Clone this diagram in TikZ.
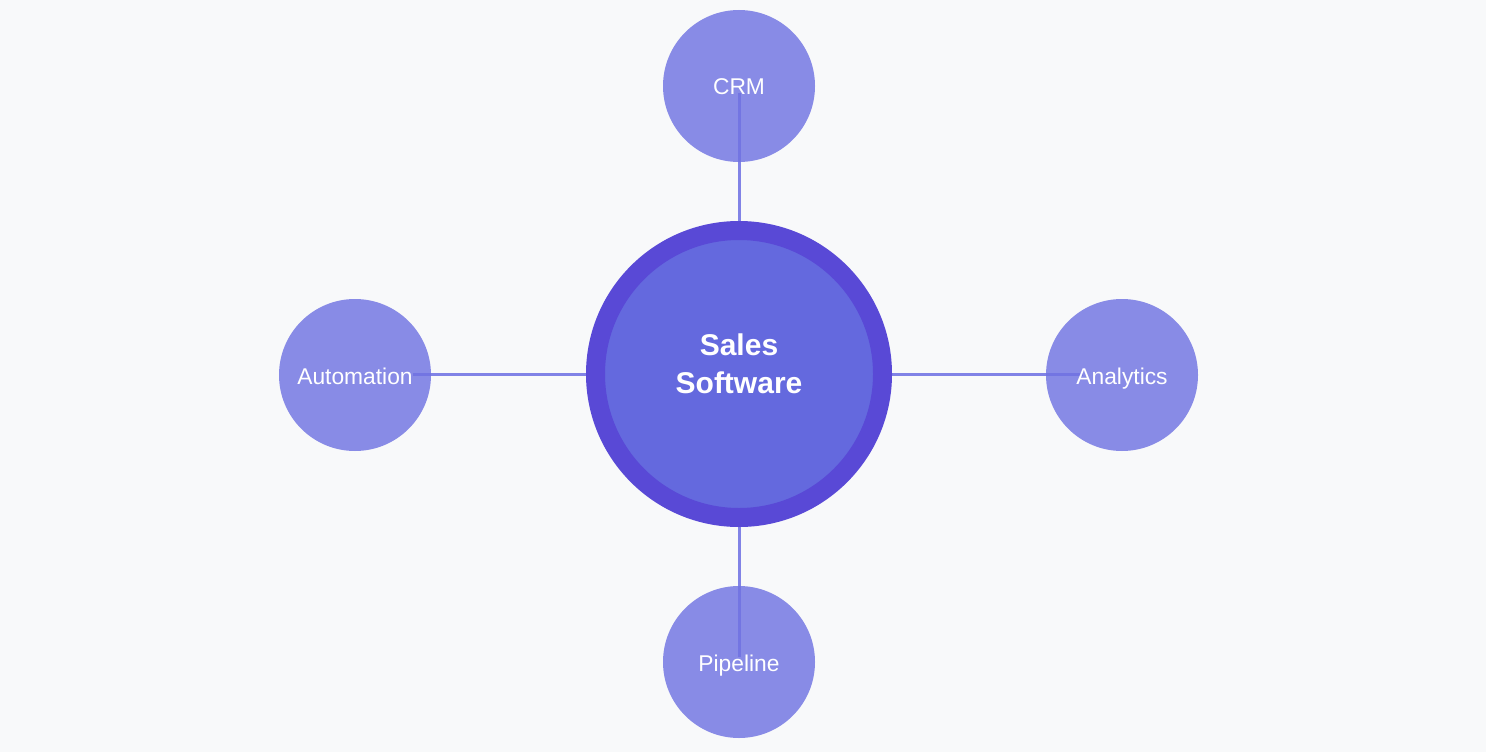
\documentclass[tikz,border=0pt]{standalone}
\usepackage{fontspec}
\setmainfont{Liberation Sans}
\definecolor{bgc}{RGB}{248,249,250}
\definecolor{ring}{RGB}{89,73,214}
\definecolor{core}{RGB}{100,105,222}
\definecolor{sat}{RGB}{112,115,226}
\definecolor{link}{RGB}{129,131,230}
\pgfdeclarelayer{paper}
\pgfdeclarelayer{links}
\pgfsetlayers{paper,links,main}
\tikzset{
  hub/.style={circle, fill=core, draw=ring, line width=19pt, minimum size=287pt, inner sep=0pt},
  hubtext/.style={text=white, align=center, font=\fontsize{30}{38}\selectfont\bfseries},
  satnode/.style={circle, fill=sat, fill opacity=0.82, text opacity=1, text=white, minimum size=152pt, inner sep=0pt,
    font=\fontsize{22.8}{27}\selectfont, text height=18pt, text depth=0pt},
  linkline/.style={draw=link, line width=3pt}
}
\begin{document}
\begin{tikzpicture}[x=1pt,y=-1pt]
\begin{pgfonlayer}{paper}
\fill[bgc] (0,0) rectangle (1486,752);
\end{pgfonlayer}
\useasboundingbox (0,0) rectangle (1486,752);
\node[hub] (main) at (739,374) {};
\node[hubtext] (maintext) at (739,364) {Sales\\Software};
\node[satnode] (crm) at (739,86) {CRM};
\node[satnode] (pipe) at (739,662) {Pipeline};
\node[satnode] (auto) at (355,375) {Automation};
\node[satnode] (ana) at (1122,375) {Analytics};
\coordinate (crmEnd) at (739,93);
\coordinate (pipeEnd) at (739,657);
\coordinate (autoEnd) at (413,374);
\coordinate (anaEnd) at (1083,374);
\begin{pgfonlayer}{links}
\draw[linkline] (main) -- (crmEnd);
\draw[linkline] (main) -- (pipeEnd);
\draw[linkline] (main) -- (autoEnd);
\draw[linkline] (main) -- (anaEnd);
\end{pgfonlayer}
\end{tikzpicture}
\end{document}
